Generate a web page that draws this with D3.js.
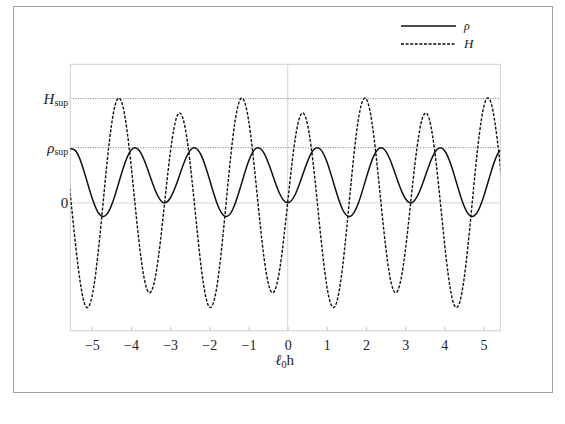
<!DOCTYPE html>
<html>
<head>
<meta charset="utf-8">
<script src="https://cdn.jsdelivr.net/npm/d3@7"></script>
<style>
  body { margin: 0; background: #fff; }
  svg text { font-family: "Liberation Serif", "Times New Roman", Times, "DejaVu Serif", serif !important; fill: #222; }
</style>
</head>
<body>
<div class="visualisation"></div>
<script>
// sample positions (l0 h) and the two curves
var xValues = [-5.6,-5.4,-5.2,-5.0,-4.8,-4.6,-4.4,-4.2,-4.0,-3.8,-3.6,-3.4,-3.2,-3.0,-2.8,-2.6,-2.4,-2.2,-2.0,-1.8,-1.6,-1.4,-1.2,-1.0,-0.8,-0.6,-0.4,-0.2,
  0,0.2,0.4,0.6,0.8,1.0,1.2,1.4,1.6,1.8,2.0,2.2,2.4,2.6,2.8,3.0,3.2,3.4,3.6,3.8,4.0,4.2,4.4,4.6,4.8,5.0,5.2,5.4,5.6];

var rhoValues = [0.976,0.930,0.574,0.102,-0.214,-0.191,0.157,0.629,0.955,0.957,0.658,0.258,0.014,0.083,0.419,0.809,0.999,0.852,0.436,-0.018,-0.246,-0.117,0.295,0.750,0.992,0.895,0.539,0.160,
  0.000,0.160,0.539,0.895,0.992,0.750,0.295,-0.117,-0.246,-0.018,0.436,0.852,0.999,0.809,0.419,0.083,0.014,0.258,0.658,0.957,0.955,0.629,0.157,-0.191,-0.214,0.102,0.574,0.930,0.976];

var hValues = [0.516,-0.860,-1.798,-1.716,-0.639,0.810,1.787,1.730,0.696,-0.675,-1.555,-1.423,-0.387,0.895,1.609,1.294,0.119,-1.214,-1.891,-1.486,-0.217,1.179,1.888,1.509,0.293,-1.016,-1.629,-1.193,
  0,1.193,1.629,1.016,-0.293,-1.509,-1.888,-1.179,0.217,1.486,1.891,1.214,-0.119,-1.294,-1.609,-0.895,0.387,1.423,1.555,0.675,-0.696,-1.730,-1.787,-0.810,0.639,1.716,1.798,0.860,-0.516];

var xTicks = [-5,-4,-3,-2,-1,0,1,2,3,4,5];
var rhoSup = 1, hSup = 1.89;

var W = 565, H = 424;
var margin = {top:64.3, right:64.7, bottom:93.3, left:70.3},
	width = W - margin.left - margin.right,
	height = H - margin.top - margin.bottom;

var root = d3.select(".visualisation").append("svg")
    .attr("width", W)
    .attr("height", H)
    .attr("font-family", "Liberation Serif");

// outer frame
root.append("rect")
    .attr("x", 13.5).attr("y", 6.5)
    .attr("width", 539).attr("height", 386)
    .attr("fill", "none").attr("stroke", "#a0a0a0").attr("stroke-width", 1);

var svg = root.append("g")
    .attr("transform", "translate(" + margin.left + "," + margin.top + ")");

var x = d3.scaleLinear().domain([-5.55, 5.43]).range([0, width]);
var y = d3.scaleLinear().domain([-2.32, 2.513]).range([height, 0]);

svg.append("clipPath").attr("id", "clip")
  .append("rect").attr("width", width).attr("height", height);

// axes lines through origin
svg.append("line")
    .attr("x1", 0).attr("x2", width).attr("y1", y(0)).attr("y2", y(0))
    .attr("stroke", "#dcdcdc").attr("stroke-width", 1.2);
svg.append("line")
    .attr("x1", x(0)).attr("x2", x(0)).attr("y1", 0).attr("y2", height)
    .attr("stroke", "#dcdcdc").attr("stroke-width", 1.2);

// sup reference lines
svg.selectAll(".sup").data([rhoSup, hSup]).enter().append("line")
    .attr("class", "sup")
    .attr("x1", 0).attr("x2", width)
    .attr("y1", d => y(d)).attr("y2", d => y(d))
    .attr("stroke", "#555").attr("stroke-width", 0.8)
    .attr("stroke-dasharray", "1,1.5");

// frame
svg.append("rect")
    .attr("width", width).attr("height", height)
    .attr("fill", "none").attr("stroke", "#d0d0d0").attr("stroke-width", 1);

// bottom ticks
var xAxis = svg.append("g")
    .attr("transform", "translate(0," + height + ")")
    .call(d3.axisBottom(x).tickValues(xTicks).tickSize(-4).tickPadding(9)
      .tickFormat(d => d < 0 ? "\u2212" + (-d) : d));
xAxis.attr("font-family", null).attr("font-size", null);
xAxis.select(".domain").remove();
xAxis.selectAll(".tick line").attr("stroke", "#c8c8c8");
xAxis.selectAll(".tick text")
    .style("font-size", "14px").attr("fill", "#222");

// left labels
var yLabels = [{v:hSup, b:"H", it:true}, {v:rhoSup, b:"\u03c1", it:true}, {v:0, b:"0", it:false}];
yLabels.forEach(function(d){
	var t = svg.append("text")
		.attr("x", -2).attr("y", y(d.v) + 5)
		.attr("text-anchor", "end")
		.style("font-size", "15px");
	t.append("tspan").text(d.b).style("font-style", d.it ? "italic" : "normal");
	if (d.v !== 0) {
		t.append("tspan").text("sup").attr("dy", 2).style("font-size", "10px");
	}
});

// x title
var xt = svg.append("text")
    .attr("x", x(0) - 3).attr("y", height + 34)
    .attr("text-anchor", "middle")
    .style("font-size", "15px");
xt.append("tspan").text("\u2113").style("font-style", "italic");
xt.append("tspan").text("0").attr("dy", 3).style("font-size", "10px");
xt.append("tspan").text("h").attr("dy", -3);

var line = d3.line().curve(d3.curveNatural);

var plot = svg.append("g").attr("clip-path", "url(#clip)");

plot.append("path")
    .attr("d", line(xValues.map((v, i) => [x(v), y(hValues[i])])))
    .attr("fill", "none").attr("stroke", "#111").attr("stroke-width", 1.4)
    .attr("stroke-dasharray", "3,1.6");

plot.append("path")
    .attr("d", line(xValues.map((v, i) => [x(v), y(rhoValues[i])])))
    .attr("fill", "none").attr("stroke", "#111").attr("stroke-width", 1.5);

// legend
var legend = root.append("g");
var legendItems = [{name:"\u03c1", dash:null, y:26, fs:"12px"}, {name:"H", dash:"3,1.6", y:44, fs:"13px"}];
legendItems.forEach(function(d){
	legend.append("line")
		.attr("x1", 401).attr("x2", 456).attr("y1", d.y).attr("y2", d.y)
		.attr("stroke", "#111").attr("stroke-width", 1.4)
		.attr("stroke-dasharray", d.dash);
	legend.append("text")
		.attr("x", 464).attr("y", d.y + 4)
		.style("font-style", "italic").style("font-size", d.fs)
		.attr("fill", "#444")
		.text(d.name);
});
</script>
</body>
</html>
